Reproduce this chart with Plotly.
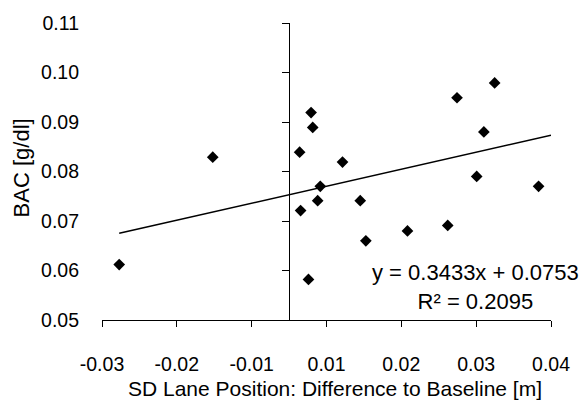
import plotly.graph_objects as go

# ---- data ----
sd_lane_diff = [-0.0227, -0.0102, 0.00294, 0.00316, 0.00141, 0.00417, 0.00382,
                0.00154, 0.00259, 0.00714, 0.00951, 0.01026, 0.01582, 0.0212,
                0.02244, 0.02507, 0.02603, 0.02747, 0.03334]
bac_values = [0.0612, 0.0829, 0.0919, 0.0889, 0.0839, 0.0770, 0.0741,
              0.0721, 0.0582, 0.0819, 0.0741, 0.0660, 0.0680, 0.0691,
              0.0949, 0.0790, 0.0880, 0.0979, 0.0770]

trend_slope = 0.3433
trend_intercept = 0.0753
r_squared = 0.2095

x_range = [-0.025, 0.035]
y_range = [0.05, 0.11]
x_tick_vals = [-0.025, -0.015, -0.005, 0.005, 0.015, 0.025, 0.035]
x_tick_labels = ["-0.03", "-0.02", "-0.01", "0.01", "0.02", "0.03", "0.04"]
y_tick_vals = [0.05, 0.06, 0.07, 0.08, 0.09, 0.10, 0.11]
y_tick_labels = ["0.05", "0.06", "0.07", "0.08", "0.09", "0.10", "0.11"]

x_title = "SD Lane Position: Difference to Baseline [m]"
y_title = "BAC [g/dl]"

FONT = "Liberation Sans, Arial, sans-serif"

trend_x = [min(sd_lane_diff), x_range[1]]
trend_y = [trend_slope * v + trend_intercept for v in trend_x]

fig = go.Figure()
fig.add_trace(go.Scatter(
    x=trend_x, y=trend_y, mode="lines", yaxis="y2",
    line=dict(color="black", width=1.5), showlegend=False, hoverinfo="skip"))
fig.add_trace(go.Scatter(
    x=sd_lane_diff, y=bac_values, mode="markers",
    marker=dict(symbol="diamond", size=9, color="black"),
    showlegend=False))

cross_pos = (0 - x_range[0]) / (x_range[1] - x_range[0])

eq_text = (f"y = {trend_slope:.4f}x + {trend_intercept:.4f}"
           f"<br>R² = {r_squared:.4f}")

fig.update_layout(
    width=582, height=400,
    margin=dict(l=102, r=24, t=21, b=80),
    paper_bgcolor="white", plot_bgcolor="white",
    font=dict(family=FONT, size=19, color="black"),
    xaxis=dict(range=x_range, tickvals=x_tick_vals, ticktext=x_tick_labels,
               ticks="outside", ticklen=6, tickcolor="black", tickwidth=1,
               showline=True, linecolor="black", linewidth=1,
               showgrid=False, zeroline=False, ticklabelstandoff=21,
               tickfont=dict(size=19.5)),
    yaxis=dict(range=y_range, tickvals=y_tick_vals, ticktext=y_tick_labels,
               ticks="", showline=False, showgrid=False, zeroline=False,
               ticklabelstandoff=22, tickfont=dict(size=19.5)),
    yaxis2=dict(range=y_range, tickvals=y_tick_vals, overlaying="y",
                anchor="free", position=cross_pos, side="left",
                ticks="outside", ticklen=7, tickcolor="black", tickwidth=1,
                showline=True, linecolor="black", linewidth=1,
                showticklabels=False, showgrid=False, zeroline=False),
    annotations=[
        dict(text=x_title, xref="paper", yref="paper", x=0.52, y=0,
             yanchor="top", xanchor="center", yshift=-55, showarrow=False,
             font=dict(size=21)),
        dict(text=y_title, xref="paper", yref="paper", x=-0.18, y=0.511,
             xanchor="center", yanchor="middle", textangle=-90, showarrow=False,
             font=dict(size=22)),
        dict(text=eq_text, xref="x", yref="y", x=0.0249, y=0.0566,
             showarrow=False, align="center", borderpad=0,
             xanchor="center", yanchor="middle", font=dict(size=22)),
    ],
)

fig.write_html("out.html")
